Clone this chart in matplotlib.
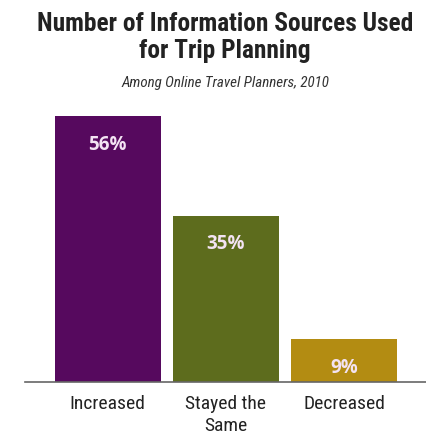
import matplotlib.pyplot as plt
from matplotlib import font_manager

categories = ["Increased", "Stayed the\nSame", "Decreased"]
values = [56, 35, 9]
colors = ["#56095e", "#5d6c1d", "#b38c12"]
labels = ["56%", "35%", "9%"]

names = set(f.name for f in font_manager.fontManager.ttflist)
font = "DejaVu Sans"
for cand in ["Liberation Sans Narrow", "Roboto Condensed", "Open Sans Condensed",
             "DejaVu Sans Condensed"]:
    if cand in names:
        font = cand
        break
plt.rcParams['font.family'] = [font, 'DejaVu Sans']
plt.rcParams['font.stretch'] = 'condensed'

fig = plt.figure(figsize=(4.27, 4.35), dpi=100)
ax = fig.add_axes([25 / 427, 52 / 435, 402 / 427, 266 / 435])

x = list(range(len(values)))
bars = ax.bar(x, values, width=0.9, color=colors, linewidth=0)
for b, lab in zip(bars, labels):
    ax.text(b.get_x() + b.get_width() / 2, b.get_height() - 5.8, lab,
            ha='center', va='center', color='#f3e3f3', fontsize=13.5,
            fontweight='bold', family=['Open Sans', 'DejaVu Sans'],
            fontstretch='normal')

ax.set_xlim(-0.70, 2.70)
ax.set_ylim(0, 56)
ax.set_xticks(x)
ax.set_xticklabels(categories, fontsize=14, color='#222222', linespacing=1.25)
ax.tick_params(axis='x', length=0, pad=9)
ax.set_yticks([])
for s in ['top', 'right', 'left']:
    ax.spines[s].set_visible(False)
ax.spines['bottom'].set_color('#666666')
ax.spines['bottom'].set_linewidth(1.2)

fig.text(0.527, 0.914, "Number of Information Sources Used\nfor Trip Planning",
         ha='center', va='center', fontsize=18.3, fontweight='bold',
         color='#222222', linespacing=1.2)
fig.text(0.527, 0.809, "Among Online Travel Planners, 2010", ha='center',
         va='center', fontsize=10.8, style='italic', color='#333333')

fig.savefig("out.png", dpi=100)
